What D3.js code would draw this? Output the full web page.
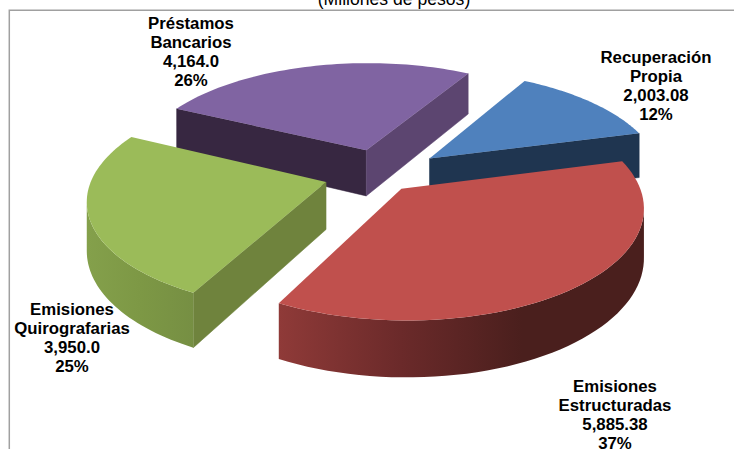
<!DOCTYPE html>
<html>
<head>
    <meta charset="UTF-8">
    <style>
        *{
            margin: 0;
            padding: 0;
        }
        html, body{
            background-color: #fff;
            overflow: hidden;
        }
        #chart{
            display: block;
            background-color: #fff;
        }
        text{
            font-family: "Liberation Sans", Arial, sans-serif;
            fill: #000;
        }
        .label{
            font-size: 16.8px;
            font-weight: bold;
            text-anchor: middle;
        }
        .title{
            font-size: 17.6px;
            text-anchor: middle;
        }
    </style>
    <script src="https://d3js.org/d3.v7.min.js"></script>
    <title>Deuda</title>
</head>

<body>
<svg id="chart" width="734" height="449"></svg>
<script>
    // data, in the order the slices go round the pie
    var categories = ["Recuperación Propia", "Emisiones Estructuradas", "Emisiones Quirografarias", "Préstamos Bancarios"];
    var values = [2003.08, 5885.38, 3950.0, 4164.0];
    var valueLabels = ["2,003.08", "5,885.38", "3,950.0", "4,164.0"];
    var percentLabels = ["12%", "37%", "25%", "26%"];
    var titleText = "(Millones de pesos)";

    // styles, one per slice
    var topColors = ["#4f81bd", "#c0504d", "#9bbb59", "#8064a2"];
    var startWall = ["#1f3550", "#4a1f1d", "#6f833d", "#372741"];
    var endWall = ["#1f3550", "#4a1f1d", "#6f833d", "#5c4570"];
    var rimStops = [
        ["#1f3550", "#1f3550"],
        ["#8f3a38", "#6b2a2a", "#4a1f1d", "#4a1f1d"],
        ["#84a04b", "#7d9845", "#768f43"],
        ["#372741", "#372741"]
    ];
    var explode = [0.28, 0.21, 0.21, 0.21];
    var nudge = [[9, 5], [0, 0], [3, 4], [10, 0]];
    var labelCenter = [[656, 63], [615, 392], [72, 315], [191, 29]];
    var drawOrder = [3, 0, 2, 1];

    var svg = d3.select("#chart");
    var defs = svg.append("defs");

    // pie centre and tilted view
    var cx = 370, cy = 171, rx = 233, ry = 106, persp = 0.15, depth = 47;

    function project(px, py, z) {
        var s = 1 / (1 - persp * py);
        return [cx + rx * px * s, cy + ry * py * s + depth * z * s];
    }

    var pie = d3.pie().sort(null).startAngle(30 * Math.PI / 180).endAngle(390 * Math.PI / 180);
    var arcs = pie(values);
    var line = d3.line();

    // frame and title
    svg.append("path")
        .attr("d", "M9.3,449V10.3H734")
        .attr("fill", "none")
        .attr("stroke", "#a0a0a0")
        .attr("stroke-width", 1.5);

    svg.append("text").attr("class", "title")
        .attr("x", 394).attr("y", 5)
        .text(titleText);

    drawOrder.forEach(function (i) {
        var d = arcs[i];
        var mid = (d.startAngle + d.endAngle) / 2;
        var ox = explode[i] * Math.sin(mid), oy = -explode[i] * Math.cos(mid);

        // plan positions of the rim, clockwise
        var steps = d3.range(0, 61).map(function (k) {
            return d.startAngle + (d.endAngle - d.startAngle) * k / 60;
        });
        var rim = steps.map(function (a) {
            return [ox + Math.sin(a), oy - Math.cos(a)];
        });
        var apex = [ox, oy];

        function at(p, z) {
            var q = project(p[0], p[1], z);
            return [q[0] + nudge[i][0], q[1] + nudge[i][1]];
        }

        var g = svg.append("g").attr("class", "slice");

        // walls: only the ones that run right to left on screen can be seen
        function wall(a, b, color) {
            if (at(b, 0)[0] >= at(a, 0)[0]) return;
            g.append("path")
                .attr("d", line([at(a, 0), at(b, 0), at(b, 1), at(a, 1)]) + "Z")
                .attr("fill", color).attr("stroke", color).attr("stroke-width", 0.5);
        }
        wall(apex, rim[0], startWall[i]);
        wall(rim[rim.length - 1], apex, endWall[i]);

        var front = rim.filter(function (p, k) {
            var next = rim[k + 1] || p, prev = rim[k - 1] || p;
            return at(next, 0)[0] < at(p, 0)[0] || at(p, 0)[0] < at(prev, 0)[0];
        });
        if (front.length > 1) {
            var upper = front.map(function (p) { return at(p, 0); });
            var lower = front.map(function (p) { return at(p, 1); }).reverse();
            var xs = d3.extent(upper, function (p) { return p[0]; });
            var grad = defs.append("linearGradient")
                .attr("id", "rim" + i)
                .attr("gradientUnits", "userSpaceOnUse")
                .attr("x1", xs[0]).attr("x2", xs[1]).attr("y1", 0).attr("y2", 0);
            rimStops[i].forEach(function (c, k) {
                grad.append("stop")
                    .attr("offset", k / (rimStops[i].length - 1))
                    .attr("stop-color", c);
            });
            g.append("path")
                .attr("d", line(upper.concat(lower)) + "Z")
                .attr("fill", "url(#rim" + i + ")");
        }

        // top face
        g.append("path")
            .attr("d", line([at(apex, 0)].concat(rim.map(function (p) { return at(p, 0); }))) + "Z")
            .attr("fill", topColors[i]);
    });

    // data labels
    categories.forEach(function (name, i) {
        var words = name.split(" ").concat([valueLabels[i], percentLabels[i]]);
        var t = svg.append("text").attr("class", "label")
            .attr("x", labelCenter[i][0]).attr("y", labelCenter[i][1]);
        words.forEach(function (w, k) {
            t.append("tspan")
                .attr("x", labelCenter[i][0])
                .attr("dy", k === 0 ? 0 : 19)
                .text(w);
        });
    });
</script>
</body>
</html>
